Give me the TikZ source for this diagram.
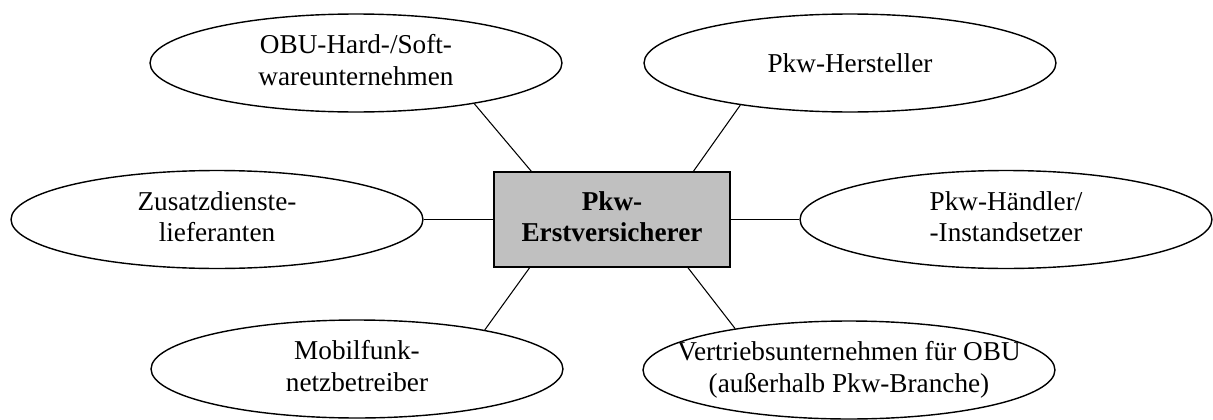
\documentclass[tikz,border=0pt]{standalone}
\usepackage{fontspec}
\setmainfont{Liberation Serif}
\usetikzlibrary{shapes.geometric,calc}

% two centred lines, set in a zero-width box so the shape keeps its given size
\newcommand{\twolines}[2]{\clap{\raisebox{-3pt}{\begin{tabular}{@{}c@{}}#1\\#2\end{tabular}}}}

\tikzset{
  px/.style={x=0.02cm,y=-0.02cm},
  partner/.style={ellipse, draw, line width=0.8pt, inner sep=0pt,
    minimum width=8.24cm, minimum height=1.96cm,
    font=\fontsize{15.5}{18}\selectfont},
  insurer/.style={rectangle, draw, line width=1pt, fill=boxgray, inner sep=0pt,
    minimum width=4.72cm, minimum height=1.9cm,
    font=\fontsize{15.5}{17.5}\selectfont\bfseries},
  link/.style={line width=0.6pt}
}
\definecolor{boxgray}{RGB}{192,192,192}

\begin{document}
\begin{tikzpicture}[px]
  \useasboundingbox (0,0) rectangle (1213,419);

  \node[insurer] (box) at (612,219.5) {\twolines{Pkw-}{Erstversicherer}};

  \node[partner] (tl) at (356,63)  {\twolines{OBU-Hard-/Soft-}{wareunternehmen}};
  \node[partner] (tr) at (850,63)  {\clap{\raisebox{-3pt}{Pkw-Hersteller}}};
  \node[partner] (ml) at (217,219.5) {\twolines{Zusatzdienste-}{lieferanten}};
  \node[partner] (mr) at (1006,219.5) {\twolines{Pkw-Händler/}{-Instandsetzer}};
  \node[partner] (bl) at (357,369) {\twolines{Mobilfunk-}{netzbetreiber}};
  \node[partner] (br) at (849,370) {\twolines{Vertriebsunternehmen für OBU}{(außerhalb Pkw-Branche)}};

  \draw[link] ($(box.north west)!0.16!(box.north east)$) -- (tl.-19);
  \draw[link] ($(box.north west)!0.843!(box.north east)$) -- (tr.201);
  \draw[link] (box.west) -- (ml.east);
  \draw[link] (box.east) -- (mr.west);
  \draw[link] ($(box.south west)!0.153!(box.south east)$) -- (bl.17);
  \draw[link] ($(box.south west)!0.82!(box.south east)$) -- (br.160);
\end{tikzpicture}
\end{document}
